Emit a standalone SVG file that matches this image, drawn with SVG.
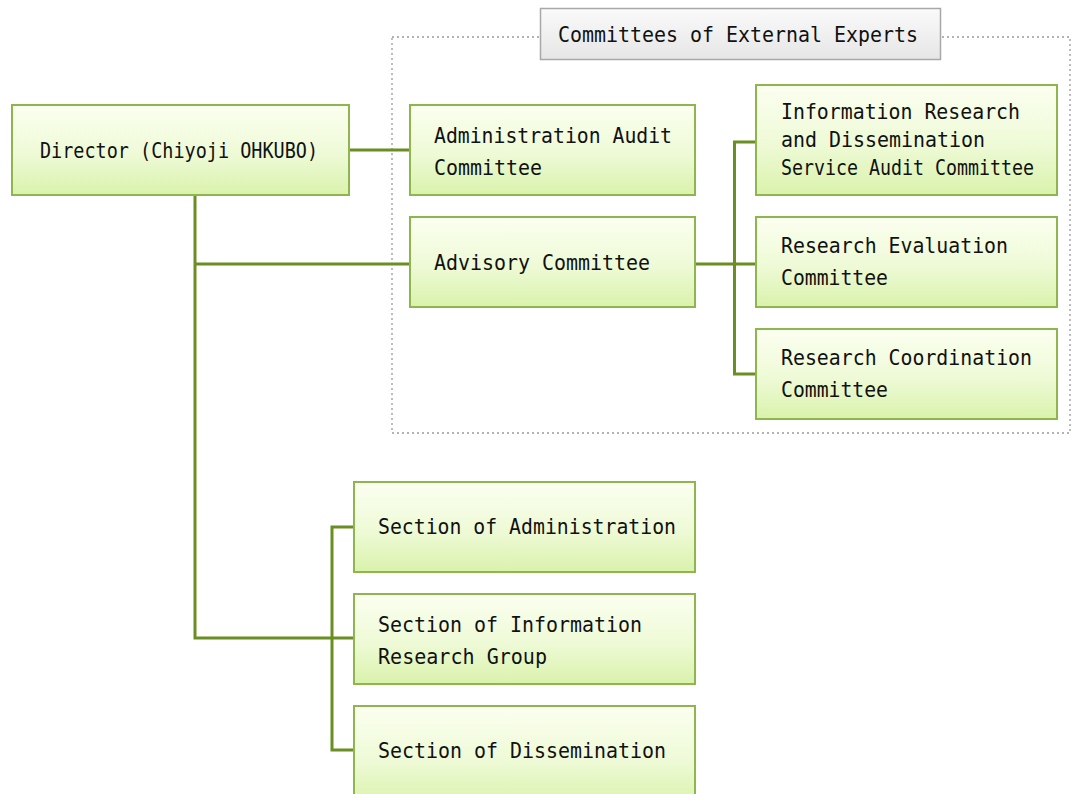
<svg xmlns="http://www.w3.org/2000/svg" width="1075" height="794" viewBox="0 0 1075 794">
<defs>
<linearGradient id="gGreen" x1="0" y1="0" x2="0" y2="1">
<stop offset="0" stop-color="#fbfff0"/>
<stop offset="0.55" stop-color="#eefad6"/>
<stop offset="1" stop-color="#d9f2ab"/>
</linearGradient>
<linearGradient id="gGray" x1="0" y1="0" x2="0" y2="1">
<stop offset="0" stop-color="#fafafa"/>
<stop offset="1" stop-color="#e6e6e6"/>
</linearGradient>
<style>
.box{fill:url(#gGreen);stroke:#8fb64e;stroke-width:2}
.title{fill:url(#gGray);stroke:#a8a8a8;stroke-width:1.5}
.t{font-family:"DejaVu Sans Mono","Liberation Mono",monospace;font-size:21px;fill:#111}
.conn{fill:none;stroke:#6b8e23;stroke-width:3}
.frame{fill:none;stroke:#9a9a9a;stroke-width:1.3;stroke-dasharray:2 3}
</style>
</defs>
<rect width="1075" height="794" fill="#ffffff"/>
<g id="frame">
<rect class="frame" x="392" y="37" width="678" height="396"/>
</g>
<g id="title">
<rect class="title" x="540.5" y="8.5" width="400" height="51"/>
<text class="t" x="558" y="42" textLength="360" lengthAdjust="spacingAndGlyphs">Committees of External Experts</text>
</g>
<g id="connectors">
<path class="conn" d="M349 150 H410"/>
<path class="conn" d="M195 195 V638 H354"/>
<path class="conn" d="M195 264 H410"/>
<path class="conn" d="M695 264 H756"/>
<path class="conn" d="M756 142 H734.5 V374 H756"/>
<path class="conn" d="M354 527 H332 V750 H354"/>
</g>
<g id="director">
<rect class="box" x="12" y="105" width="337" height="90"/>
<text class="t" x="40" y="158" textLength="278" lengthAdjust="spacingAndGlyphs">Director (Chiyoji OHKUBO)</text>
</g>
<g id="admin-audit">
<rect class="box" x="410" y="105" width="285" height="90"/>
<text class="t" x="434" y="143" textLength="238" lengthAdjust="spacingAndGlyphs">Administration Audit</text>
<text class="t" x="434" y="175" textLength="108" lengthAdjust="spacingAndGlyphs">Committee</text>
</g>
<g id="advisory">
<rect class="box" x="410" y="217" width="285" height="90"/>
<text class="t" x="434" y="270" textLength="216" lengthAdjust="spacingAndGlyphs">Advisory Committee</text>
</g>
<g id="info-research-audit">
<rect class="box" x="756" y="85" width="301" height="110"/>
<text class="t" x="781" y="119" textLength="239" lengthAdjust="spacingAndGlyphs">Information Research</text>
<text class="t" x="781" y="147" textLength="204" lengthAdjust="spacingAndGlyphs">and Dissemination</text>
<text class="t" x="781" y="175" textLength="253" lengthAdjust="spacingAndGlyphs">Service Audit Committee</text>
</g>
<g id="research-evaluation">
<rect class="box" x="756" y="217" width="301" height="90"/>
<text class="t" x="781" y="253" textLength="227" lengthAdjust="spacingAndGlyphs">Research Evaluation</text>
<text class="t" x="781" y="285" textLength="107" lengthAdjust="spacingAndGlyphs">Committee</text>
</g>
<g id="research-coordination">
<rect class="box" x="756" y="329" width="301" height="90"/>
<text class="t" x="781" y="365" textLength="251" lengthAdjust="spacingAndGlyphs">Research Coordination</text>
<text class="t" x="781" y="397" textLength="107" lengthAdjust="spacingAndGlyphs">Committee</text>
</g>
<g id="section-admin">
<rect class="box" x="354" y="482" width="341" height="90"/>
<text class="t" x="378" y="534" textLength="298" lengthAdjust="spacingAndGlyphs">Section of Administration</text>
</g>
<g id="section-info">
<rect class="box" x="354" y="594" width="341" height="90"/>
<text class="t" x="378" y="632" textLength="264" lengthAdjust="spacingAndGlyphs">Section of Information</text>
<text class="t" x="378" y="664" textLength="169" lengthAdjust="spacingAndGlyphs">Research Group</text>
</g>
<g id="section-dissemination">
<rect class="box" x="354" y="706" width="341" height="100"/>
<text class="t" x="378" y="758" textLength="288" lengthAdjust="spacingAndGlyphs">Section of Dissemination</text>
</g>
</svg>
